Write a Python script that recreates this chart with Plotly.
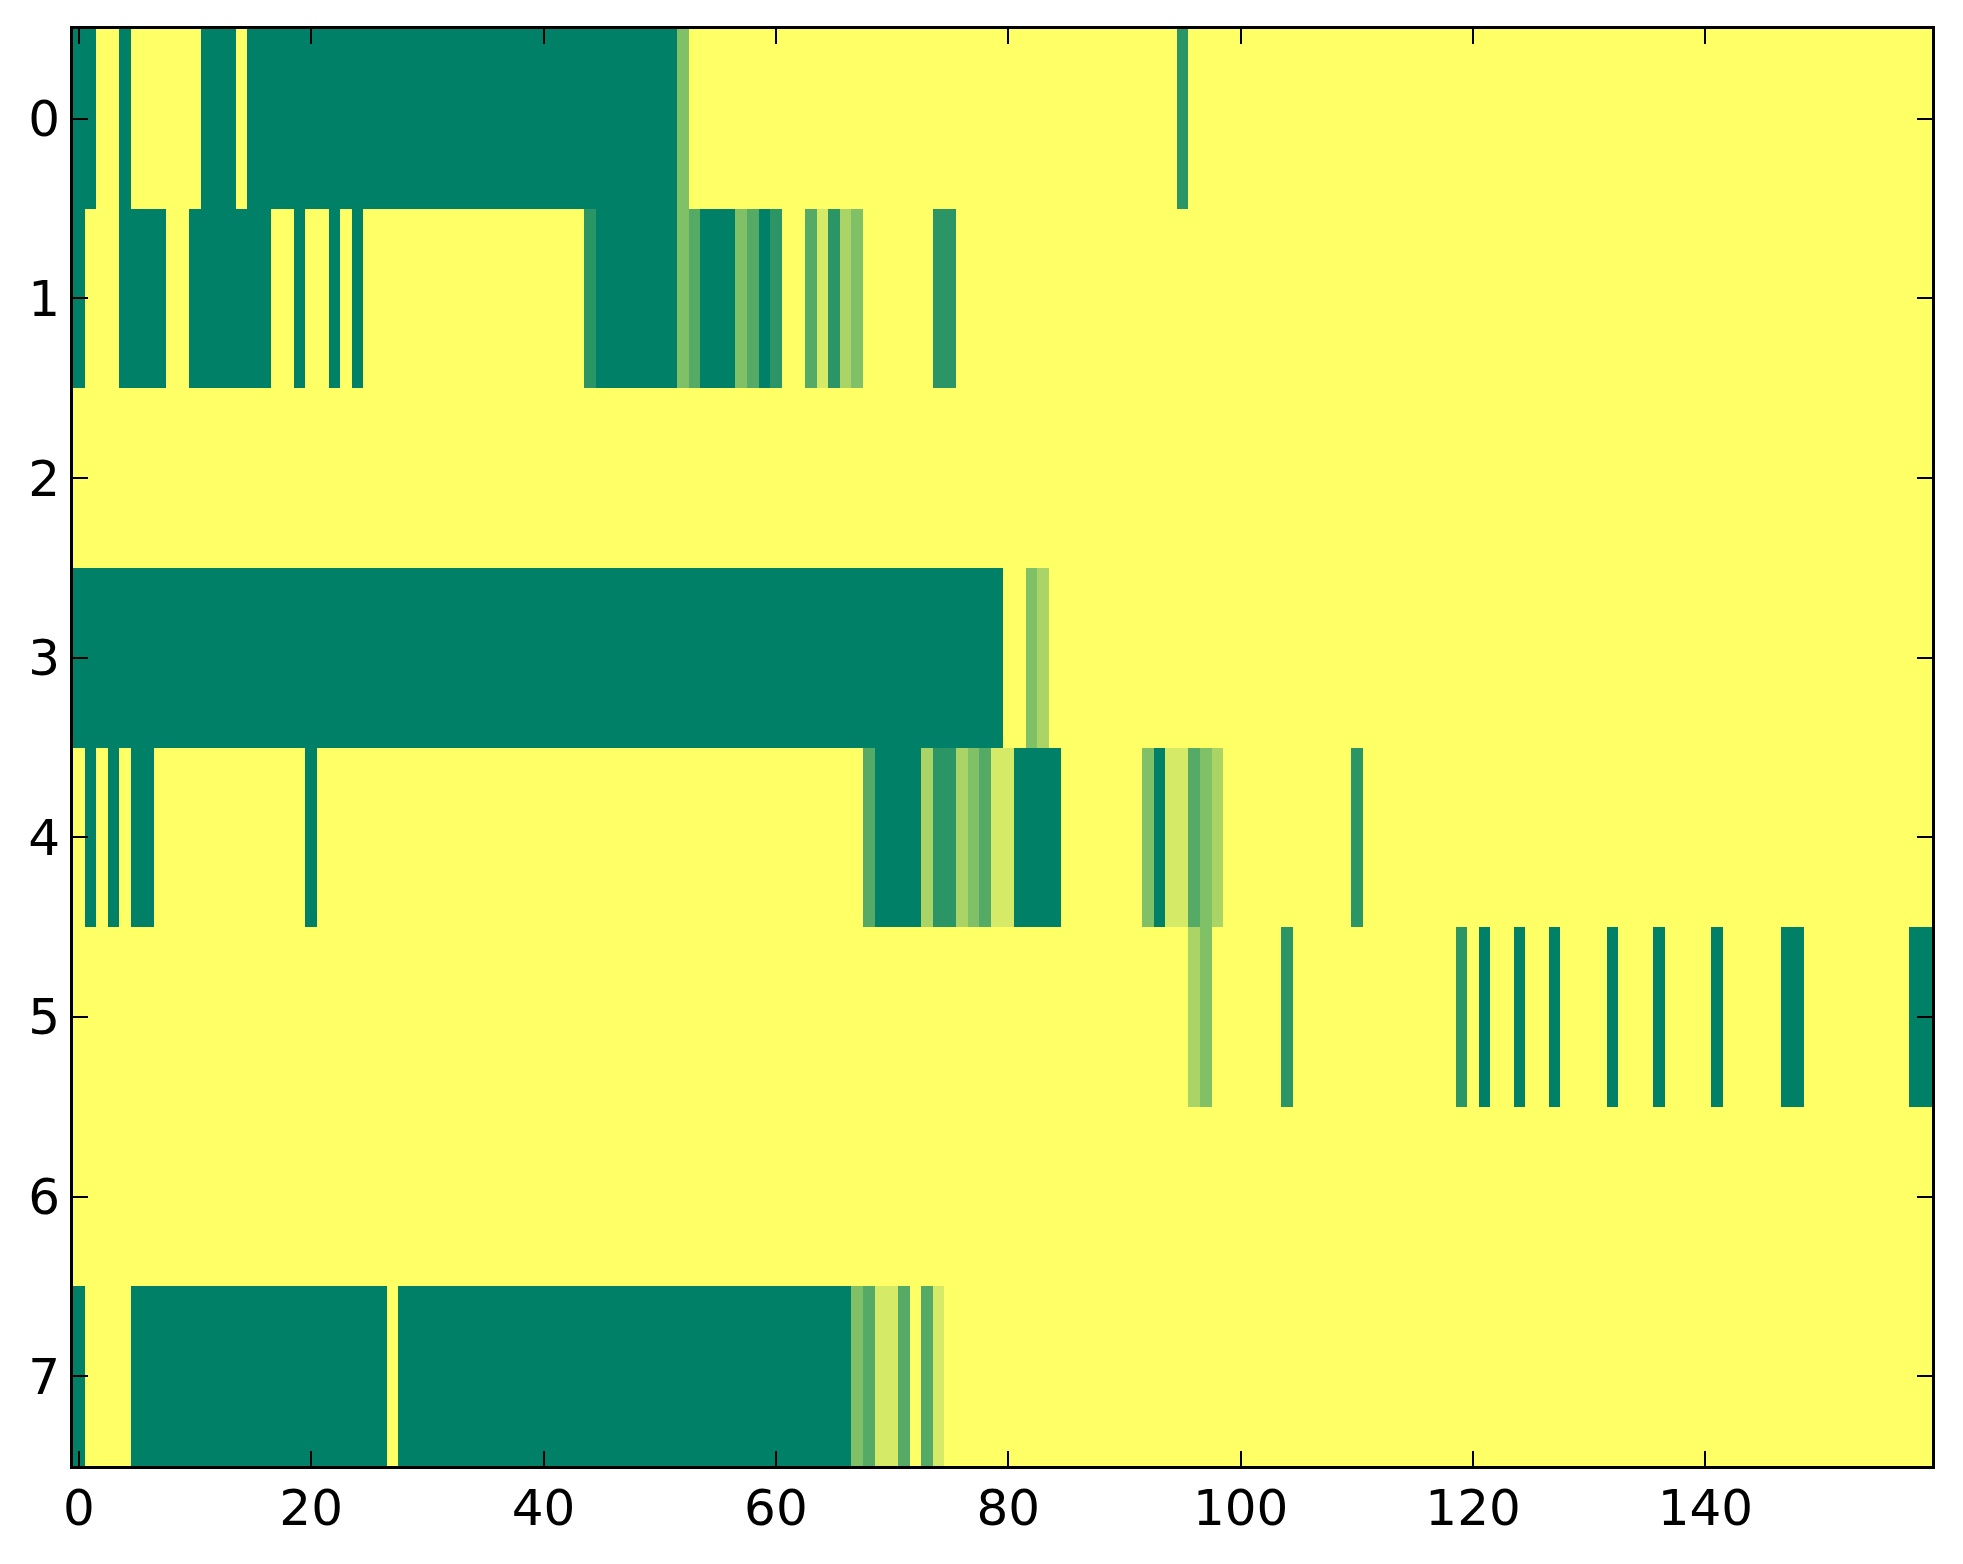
import numpy as np
import plotly.graph_objects as go

n_cols = 160
row_labels = [0, 1, 2, 3, 4, 5, 6, 7]
x_ticks = [0, 20, 40, 60, 80, 100, 120, 140]

# cells that are not at the top level (6 = yellow): (first col, last col, level)
row0 = [(0, 1, 0), (4, 4, 0), (11, 13, 0), (15, 51, 0), (52, 52, 3), (95, 95, 1)]
row1 = [(0, 0, 0), (4, 7, 0), (10, 16, 0), (19, 19, 0), (22, 22, 0), (24, 24, 0),
        (44, 44, 1), (45, 51, 0), (52, 52, 3), (53, 53, 2), (54, 56, 0), (57, 57, 3),
        (58, 58, 2), (59, 59, 0), (60, 60, 1), (63, 63, 2), (64, 64, 5), (65, 65, 1),
        (66, 66, 4), (67, 67, 3), (74, 75, 1)]
row2 = []
row3 = [(0, 79, 0), (82, 82, 3), (83, 83, 4)]
row4 = [(1, 1, 0), (3, 3, 0), (5, 6, 0), (20, 20, 0), (68, 68, 2), (69, 72, 0),
        (73, 73, 4), (74, 75, 1), (76, 76, 4), (77, 77, 3), (78, 78, 2), (79, 80, 5),
        (81, 84, 0), (92, 92, 3), (93, 93, 0), (94, 95, 5), (96, 96, 2), (97, 97, 3),
        (98, 98, 4), (110, 110, 1)]
row5 = [(96, 96, 4), (97, 97, 3), (104, 104, 1), (119, 119, 1), (121, 121, 0),
        (124, 124, 0), (127, 127, 0), (132, 132, 0), (136, 136, 0), (141, 141, 0),
        (147, 148, 0), (158, 159, 0)]
row6 = []
row7 = [(0, 0, 0), (5, 26, 0), (28, 66, 0), (67, 67, 3), (68, 68, 2), (69, 70, 5),
        (71, 71, 2), (73, 73, 2), (74, 74, 5)]

rows = [row0, row1, row2, row3, row4, row5, row6, row7]

z = np.full((len(rows), n_cols), 6.0)
for r, segs in enumerate(rows):
    for a, b, v in segs:
        z[r, a:b + 1] = v

# matplotlib "summer"
summer = [[0.0, 'rgb(0,128,102)'], [1.0, 'rgb(255,255,102)']]

fig = go.Figure(go.Heatmap(z=z, x=list(range(n_cols)), y=row_labels,
                           colorscale=summer, zmin=0, zmax=6, showscale=False,
                           hoverinfo='skip'))

axis_style = dict(showline=True, linecolor='black', linewidth=3, mirror='allticks',
                  ticks='inside', ticklen=15, tickwidth=2, tickcolor='black',
                  showgrid=False, zeroline=False,
                  tickfont=dict(family='DejaVu Sans', size=50, color='black'))

fig.update_xaxes(range=[-0.5, n_cols - 0.5], tickvals=x_ticks,
                 ticklabelstandoff=-4, **axis_style)
fig.update_yaxes(range=[7.5, -0.5], tickvals=row_labels, **axis_style)

# the page body adds 8px on the left and top
fig.update_layout(width=1963, height=1564, plot_bgcolor='white', paper_bgcolor='white',
                  margin=dict(l=65, r=39, t=21, b=106))

fig.write_html("out.html")
